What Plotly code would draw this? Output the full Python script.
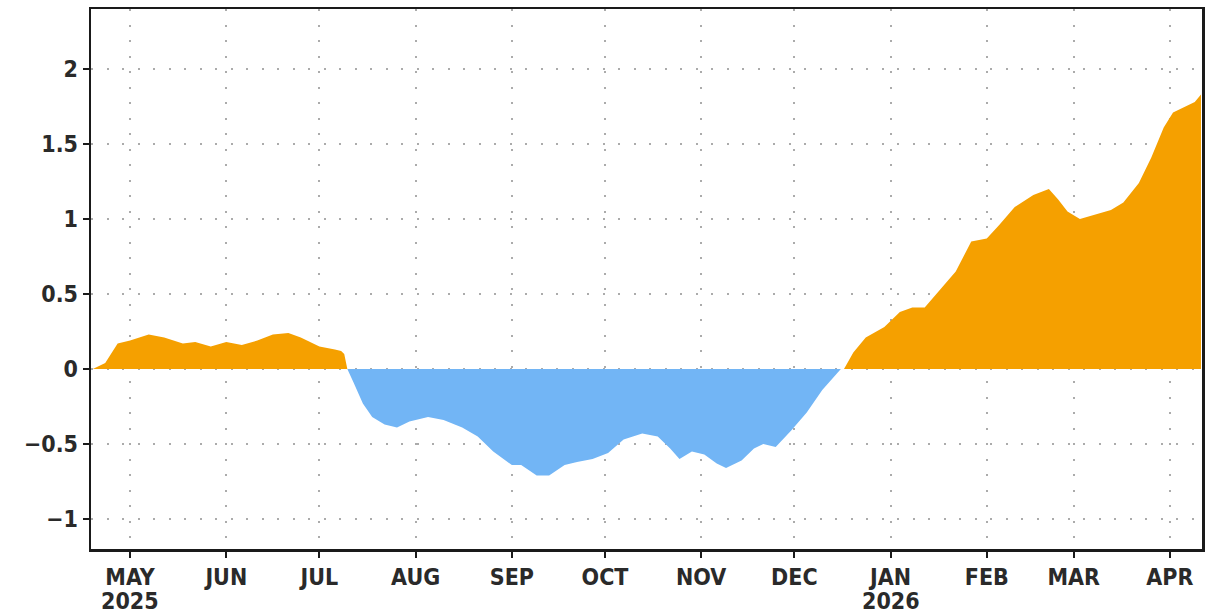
import numpy as np
import plotly.graph_objects as go

# ---- data ----
dates = [
    "2025-04-19", "2025-04-23", "2025-04-27", "2025-05-01", "2025-05-07", "2025-05-12",
    "2025-05-18", "2025-05-22", "2025-05-27", "2025-06-01", "2025-06-06", "2025-06-11",
    "2025-06-16", "2025-06-21", "2025-06-25", "2025-07-01", "2025-07-06", "2025-07-08",
    "2025-07-09", "2025-07-10",
    "2025-07-12", "2025-07-15", "2025-07-18", "2025-07-22", "2025-07-26", "2025-07-30",
    "2025-08-05", "2025-08-10", "2025-08-16", "2025-08-21", "2025-08-26", "2025-09-01",
    "2025-09-04", "2025-09-09", "2025-09-13", "2025-09-18", "2025-09-22", "2025-09-27",
    "2025-10-02", "2025-10-07", "2025-10-13", "2025-10-18", "2025-10-22", "2025-10-25",
    "2025-10-29", "2025-11-02", "2025-11-06", "2025-11-09", "2025-11-14", "2025-11-18",
    "2025-11-21", "2025-11-25", "2025-11-30", "2025-12-05", "2025-12-10", "2025-12-16",
    "2025-12-17", "2025-12-20", "2025-12-24", "2025-12-30", "2026-01-04", "2026-01-08",
    "2026-01-12", "2026-01-17", "2026-01-22", "2026-01-27", "2026-02-01", "2026-02-05",
    "2026-02-10", "2026-02-16", "2026-02-21", "2026-02-24", "2026-02-27", "2026-03-03",
    "2026-03-08", "2026-03-13", "2026-03-17", "2026-03-22", "2026-03-26", "2026-03-30",
    "2026-04-02", "2026-04-06", "2026-04-09", "2026-04-11",
]
values = [
    0.00, 0.04, 0.17, 0.19, 0.23, 0.21,
    0.17, 0.18, 0.15, 0.18, 0.16, 0.19,
    0.23, 0.24, 0.21, 0.15, 0.13, 0.12,
    0.10, 0.00,
    -0.09, -0.23, -0.32, -0.37, -0.39, -0.35,
    -0.32, -0.34, -0.39, -0.45, -0.55, -0.64,
    -0.64, -0.71, -0.71, -0.64, -0.62, -0.60,
    -0.56, -0.47, -0.43, -0.45, -0.53, -0.60,
    -0.55, -0.57, -0.63, -0.66, -0.61, -0.53,
    -0.50, -0.52, -0.41, -0.29, -0.14, 0.00,
    0.00, 0.11, 0.21, 0.28, 0.38, 0.41,
    0.41, 0.53, 0.65, 0.85, 0.87, 0.96,
    1.08, 1.16, 1.20, 1.13, 1.05, 1.00,
    1.03, 1.06, 1.11, 1.24, 1.41, 1.61,
    1.71, 1.75, 1.78, 1.83,
]

month_ticks = ["2025-05-01", "2025-06-01", "2025-07-01", "2025-08-01", "2025-09-01",
               "2025-10-01", "2025-11-01", "2025-12-01", "2026-01-01", "2026-02-01",
               "2026-03-01", "2026-04-01"]
month_labels = ["MAY", "JUN", "JUL", "AUG", "SEP", "OCT", "NOV", "DEC",
                "JAN", "FEB", "MAR", "APR"]
year_ticks = ["2025-05-01", "2026-01-01"]
year_labels = ["2025", "2026"]
y_ticks = [-1, -0.5, 0, 0.5, 1, 1.5, 2]
y_labels = ["\u22121", "\u22120.5", "0", "0.5", "1", "1.5", "2"]

vals = np.array(values)
pos = np.maximum(vals, 0)
neg = np.minimum(vals, 0)

ORANGE = "#F5A000"
BLUE = "#72B5F5"

fig = go.Figure()
fig.add_trace(go.Scatter(x=dates, y=pos, mode="lines", line=dict(width=0, color=ORANGE),
                         fill="tozeroy", fillcolor=ORANGE, hoverinfo="skip", showlegend=False))
fig.add_trace(go.Scatter(x=dates, y=neg, mode="lines", line=dict(width=0, color=BLUE),
                         fill="tozeroy", fillcolor=BLUE, hoverinfo="skip", showlegend=False))

font = dict(family="DejaVu Sans Condensed, DejaVu Sans, sans-serif",
            size=23, color="#2a2a2a", weight="bold")

fig.update_layout(
    width=1209, height=616,
    margin=dict(l=91, r=7, t=9, b=67, autoexpand=False),
    paper_bgcolor="white", plot_bgcolor="white",
    font=font,
    showlegend=False,
)
grid = dict(showgrid=True, gridcolor="#ABABAB", gridwidth=2, griddash="2px,13.5px")
frame = dict(showline=True, linecolor="#1a1a1a", linewidth=2.5, mirror=True,
             ticks="outside", ticklen=6, tickwidth=2, tickcolor="#1a1a1a",
             zeroline=False, tickfont=font, automargin=False)
fig.update_xaxes(
    type="date",
    range=["2025-04-18 10:00", "2026-04-11 08:00"],
    tickvals=month_ticks, ticktext=month_labels,
    **grid, **frame,
)
fig.update_yaxes(
    range=[-1.2, 2.4],
    tickvals=y_ticks, ticktext=y_labels,
    **grid, **frame,
)
for xv, txt in zip(year_ticks, year_labels):
    fig.add_annotation(x=xv, xref="x", y=0, yref="paper", yshift=-52,
                       text=txt, showarrow=False, font=font, yanchor="middle")

fig.write_html("out.html",
               config={"displayModeBar": False, "staticPlot": True},
               post_script="document.body.style.margin='0';document.body.style.overflow='hidden';")
